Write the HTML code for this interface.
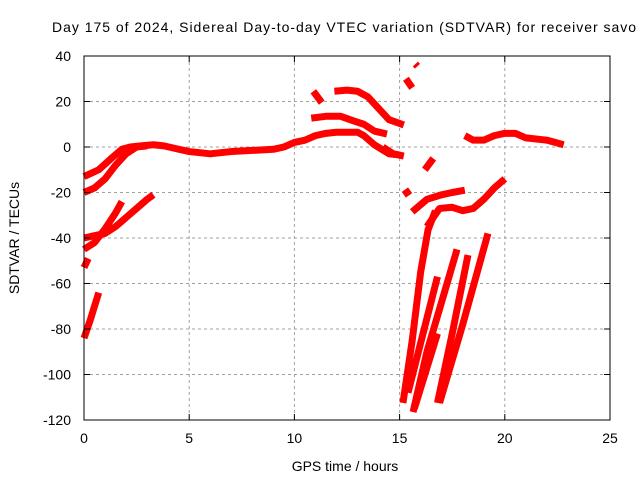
<!DOCTYPE html>
<html><head><meta charset="utf-8"><style>
html,body{margin:0;padding:0;background:#fff}
svg{display:block;font-family:"Liberation Sans",sans-serif}
</style></head><body>
<svg id="chart" width="640" height="480">
<text x="52" y="32" font-size="14" textLength="584">Day 175 of 2024, Sidereal Day-to-day VTEC variation (SDTVAR) for receiver savo</text>
<text x="345" y="471" font-size="14" text-anchor="middle">GPS time / hours</text>
<text transform="translate(19,238) rotate(-90)" font-size="14" text-anchor="middle">SDTVAR / TECUs</text>
<g id="grid"></g><g id="series"></g><g id="axes"></g>
</svg>
<script>
const xTicks=[0,5,10,15,20,25];
const yTicks=[40,20,0,-20,-40,-60,-80,-100,-120];
const traceA=[[0,-13],[0.7,-10],[1.3,-5],[1.8,-1],[2.2,0],[2.7,0.5],[3.3,1],[3.8,0.5],[4.5,-1],[5,-2],[6,-3],[7,-2],[8,-1.5],[9,-1],[9.5,0],[10,2],[10.5,3],[11,5],[11.5,6],[12,6.5],[13,6.5],[13.3,5],[13.8,1],[14.5,-3],[15,-3.5]];
const traceB=[[0,-20],[0.5,-18],[1,-14],[1.5,-8],[2,-3],[2.5,0],[3,0.5]];
const traceC=[[0,-40],[0.5,-39],[1,-38],[1.5,-35],[2,-31],[2.5,-27],[3,-23],[3.3,-21]];
const traceD=[[0,-45],[0.5,-42],[1,-36],[1.5,-29],[1.8,-24]];
const traceE=[[0,-53],[0.2,-49]];
const traceF=[[0,-84],[0.3,-76],[0.5,-70],[0.7,-64]];
const traceG=[[10.9,24.5],[11.3,19.5]];
const traceH=[[11.9,24.5],[12.5,25],[13,24.5],[13.5,22],[14,17],[14.5,12],[15.2,9.7]];
const traceI=[[10.8,12.7],[11.5,13.5],[12.2,13.5],[12.8,11.5],[13.3,10],[13.8,7],[14.4,5.7]];
const traceJ=[[14.2,0],[14.7,-3],[15.2,-4]];
const traceK=[[15.3,30],[15.6,26]];
const traceK2=[[15.75,36.5],[15.85,35.5]];
const traceL=[[15.2,-21],[15.5,-19]];
const traceM=[[16.2,-10],[16.6,-5]];
const traceN=[[15.6,-28.5],[16.3,-23],[17,-21],[17.5,-20],[18.1,-19]];
const traceO=[[16.3,-35],[16.9,-27],[17.5,-26.5],[18,-28],[18.5,-27],[19,-23],[19.5,-18],[20,-14]];
const steep1=[[15.16,-112.5],[15.6,-85],[16,-55],[16.35,-36.5],[16.7,-28]];
const steep2=[[15.64,-116.5],[16.3,-90],[17,-68],[17.73,-45]];
const steep3=[[15.7,-115],[16.8,-82]];
const steep3b=[[15.4,-108],[16.8,-57]];
const steep4=[[16.8,-112.5],[17.5,-82],[18.25,-47.5]];
const steep5=[[16.9,-112.5],[18,-78],[19.2,-38]];
const traceP=[[18.1,5],[18.5,3],[19,3],[19.5,5],[20,6],[20.5,6],[21,4],[22,3],[22.8,1]];
const seriesList=[traceA,traceB,traceC,traceD,traceE,traceF,traceG,traceH,traceI,traceJ,traceK,traceK2,traceL,traceM,traceN,traceO,steep1,steep2,steep3,steep3b,steep4,steep5,traceP];
const X0=84,X1=610,Y0=56,Y1=420;
const sx=v=>X0+(v-0)/25*(X1-X0);
const sy=v=>Y0+(40-v)/160*(Y1-Y0);
const NS="http://www.w3.org/2000/svg";
const grid=document.getElementById('grid'),axes=document.getElementById('axes'),ser=document.getElementById('series');
function mk(tag,at,parent){const e=document.createElementNS(NS,tag);for(const k in at)e.setAttribute(k,at[k]);parent.appendChild(e);return e;}
xTicks.forEach(t=>{
  if(t>0&&t<25){const g=mk('line',{x1:sx(t),x2:sx(t),y1:Y0,y2:Y1,stroke:'#a0a0a0','stroke-dasharray':'3,3'},grid);
  
  }
  const a=mk('line',{x1:sx(t),x2:sx(t),y1:Y1,y2:Y1-6,stroke:'#000'},axes);
  
  
  const b=mk('line',{x1:sx(t),x2:sx(t),y1:Y0,y2:Y0+6,stroke:'#000'},axes);
  
  
  const l=mk('text',{x:sx(t),y:443,'font-size':14,'text-anchor':'middle'},axes);l.textContent=t;
  
  
});
yTicks.forEach(t=>{
  if(t<40&&t>-120){const g=mk('line',{x1:X0,x2:X1,y1:sy(t),y2:sy(t),stroke:'#a0a0a0','stroke-dasharray':'3,3'},grid);
  
  }
  const a=mk('line',{x1:X0,x2:X0+6,y1:sy(t),y2:sy(t),stroke:'#000'},axes);
  
  
  const b=mk('line',{x1:X1,x2:X1-6,y1:sy(t),y2:sy(t),stroke:'#000'},axes);
  
  
  const l=mk('text',{x:71,y:sy(t)+5,'font-size':14,'text-anchor':'end'},axes);l.textContent=t;
  
  
});
const fr=mk('rect',{x:X0,y:Y0,width:X1-X0,height:Y1-Y0,fill:'none',stroke:'#000'},axes);


seriesList.forEach(s=>{
  const p=mk('polyline',{points:s.map(d=>sx(d[0])+','+sy(d[1])).join(' '),fill:'none',stroke:'#ff0000','stroke-width':7,'stroke-linejoin':'round'},ser);
  
  
});
</script>
</body></html>
